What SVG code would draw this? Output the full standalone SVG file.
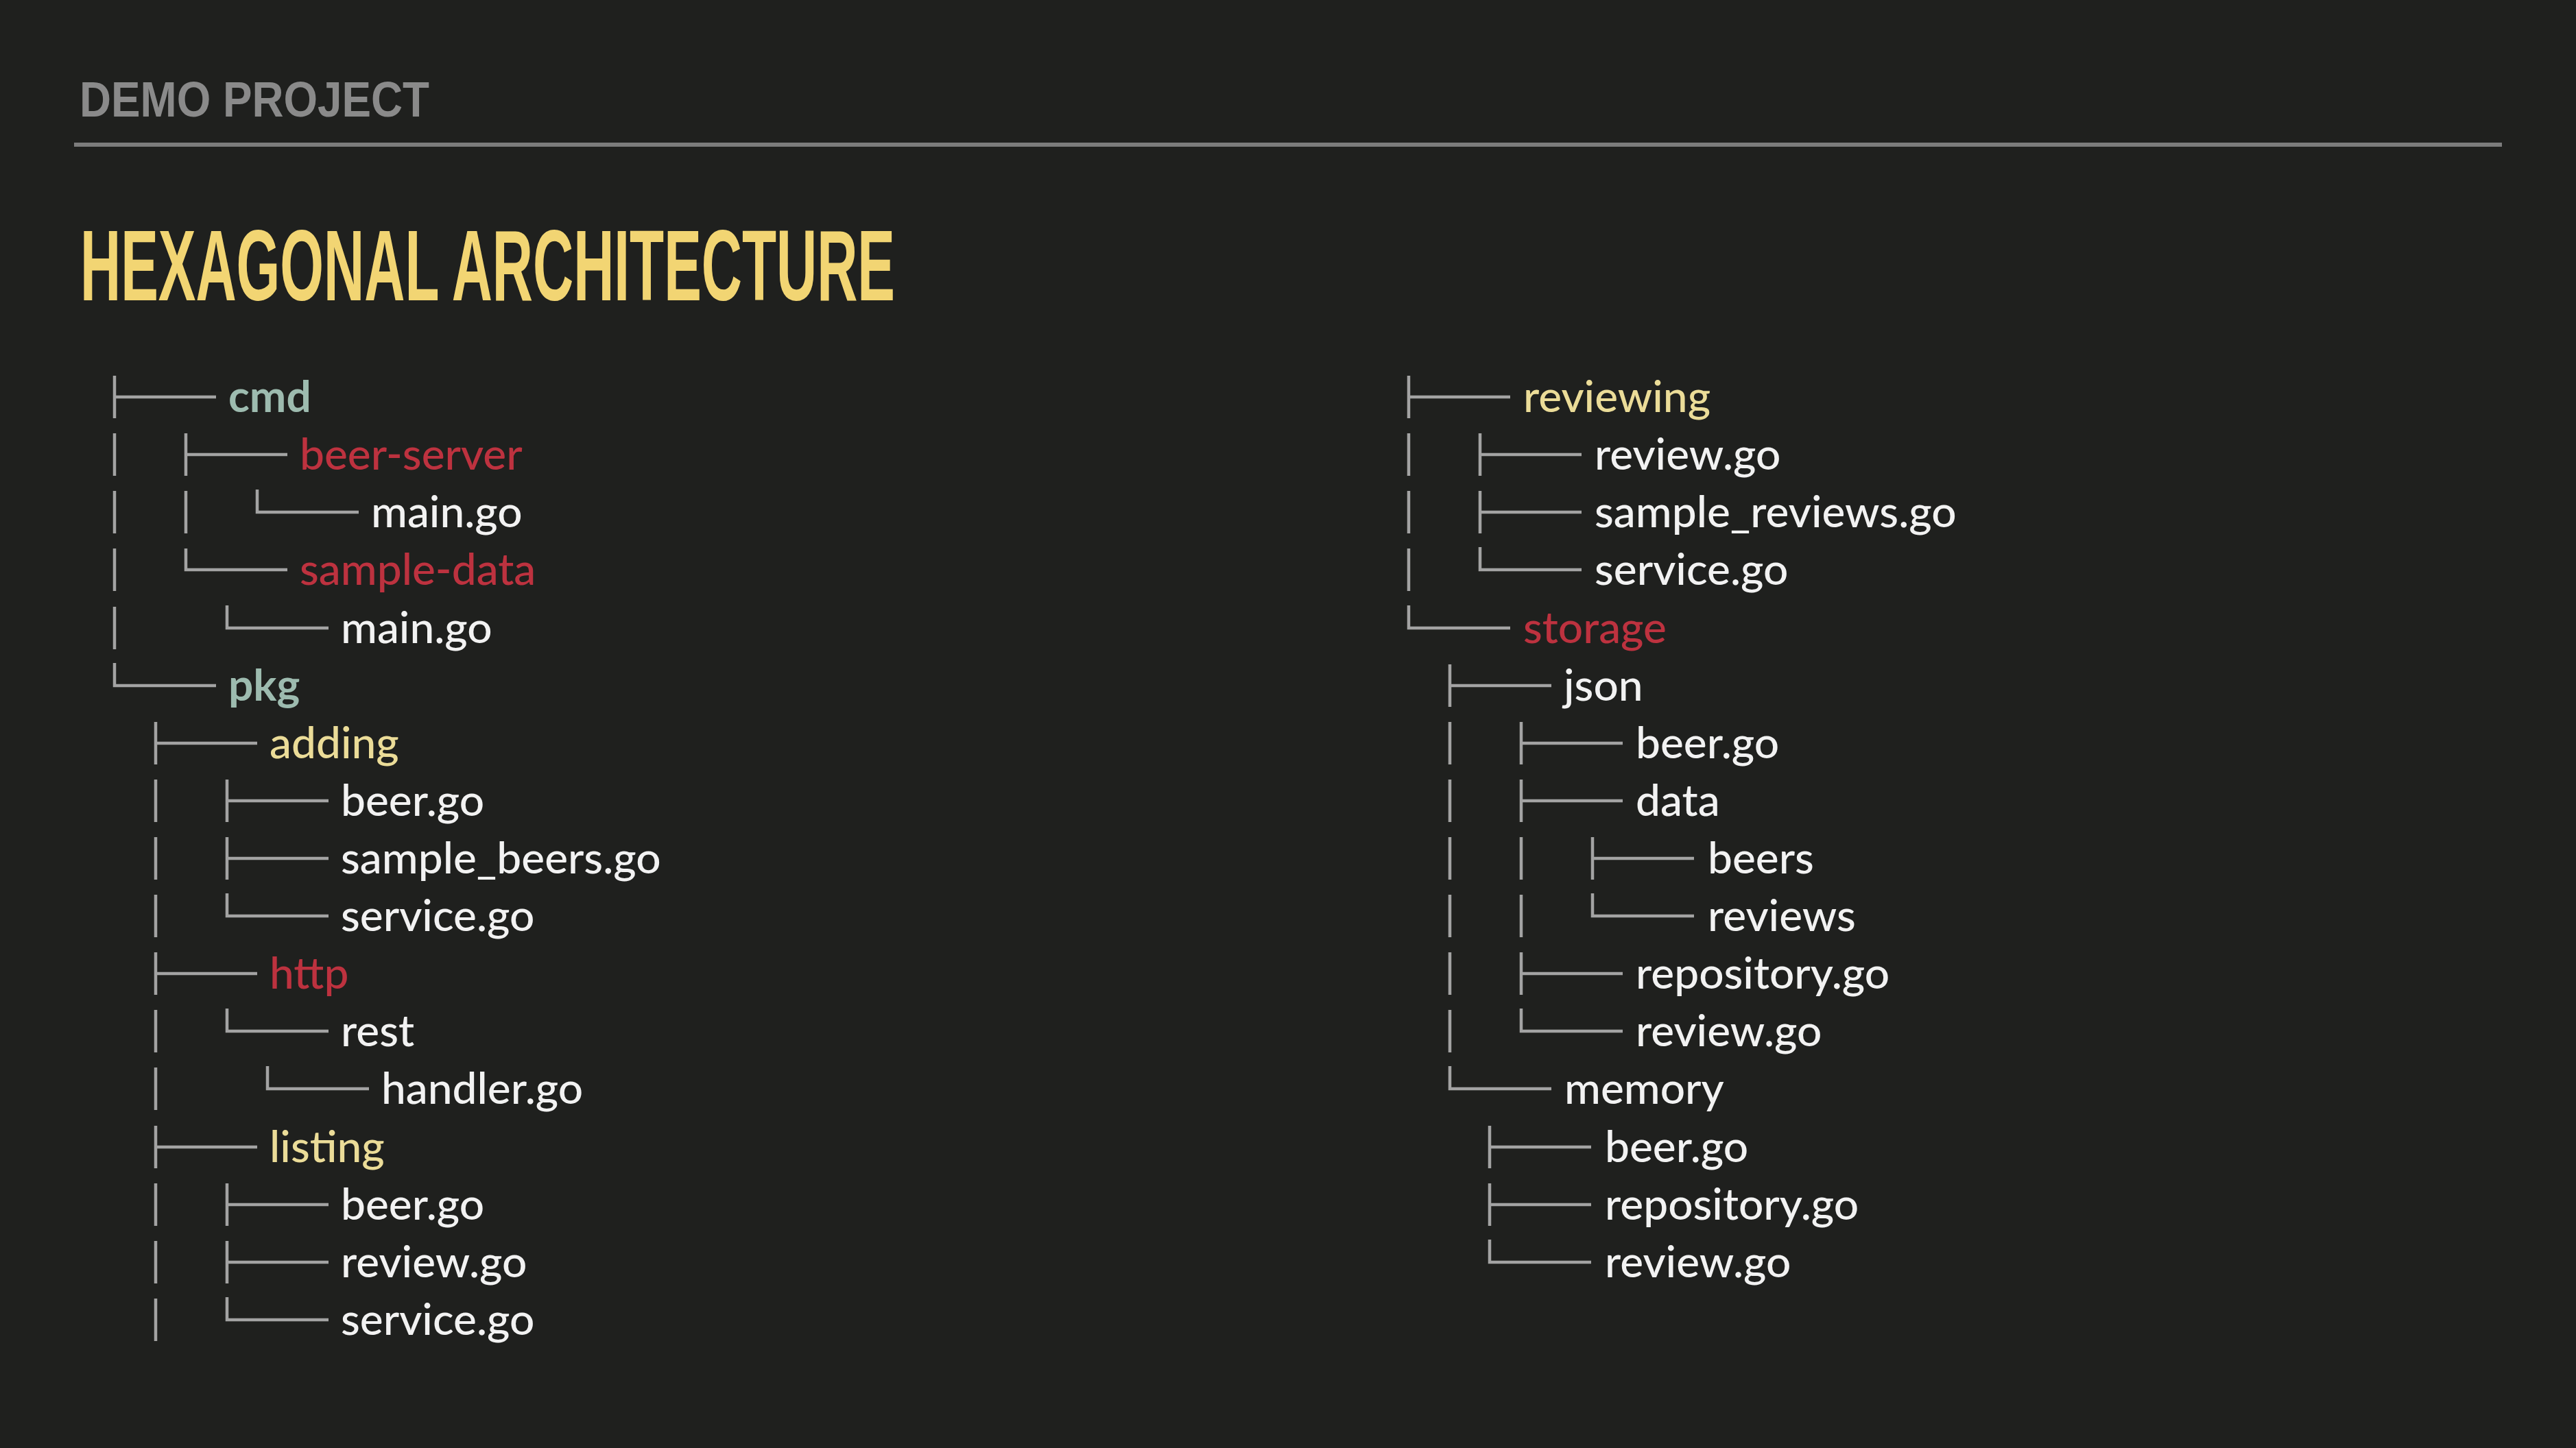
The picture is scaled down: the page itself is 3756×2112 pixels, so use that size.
<svg xmlns="http://www.w3.org/2000/svg" width="3756" height="2112" viewBox="0 0 3756 2112">
  <style>
    .bg { fill: #1f201e; }
    .kicker { font-family: "Liberation Sans", Arial, sans-serif; font-weight: 700; font-size: 73px; fill: #8a8a8a; }
    .rule { stroke: #7c7c7c; stroke-width: 6; }
    .title { font-family: "Liberation Sans", Arial, sans-serif; font-weight: 700; font-size: 147px; fill: #f2d573; }
    .tree { fill: none; stroke: #a3a3a3; stroke-width: 4.5; stroke-linecap: butt; }
    .t { font-family: Lato, "Liberation Sans", sans-serif; font-size: 64px; font-weight: 500; fill: #f2f2f2; }
    .root { fill: #9dbbaf; font-weight: 700; }
    .red { fill: #bd323f; }
    .yel { fill: #ebdc98; }
  </style>

  <rect class="bg" x="0" y="0" width="3756" height="2112"/>

  <!-- slide header -->
  <text class="kicker" x="116" y="170" textLength="510" lengthAdjust="spacingAndGlyphs">DEMO PROJECT</text>
  <line class="rule" x1="108" y1="211" x2="3648" y2="211"/>
  <text class="title" x="117" y="438" textLength="1188" lengthAdjust="spacingAndGlyphs">HEXAGONAL ARCHITECTURE</text>

  <!-- tree connectors: ├ = vertical ±31 + 148 horizontal, └ = vertical to row centre, │ = pass-through -->
  <g id="connectors" class="tree">
    <!-- left column -->
    <path d="M167 548V610M167 579H315"/>
    <path d="M167 632V694M271 632V694M271 663H419"/>
    <path d="M167 716V778M271 716V778M375 714V747H523"/>
    <path d="M167 800V862M271 800V831H419"/>
    <path d="M167 885V947M331 883V916H479"/>
    <path d="M167 967V1000H315"/>
    <path d="M227 1053V1115M227 1084H375"/>
    <path d="M227 1137V1199M331 1137V1199M331 1168H479"/>
    <path d="M227 1221V1283M331 1221V1283M331 1252H479"/>
    <path d="M227 1305V1367M331 1303V1336H479"/>
    <path d="M227 1389V1451M227 1420H375"/>
    <path d="M227 1473V1535M331 1471V1504H479"/>
    <path d="M227 1557V1619M390 1555V1588H538"/>
    <path d="M227 1642V1704M227 1673H375"/>
    <path d="M227 1726V1788M331 1726V1788M331 1757H479"/>
    <path d="M227 1810V1872M331 1810V1872M331 1841H479"/>
    <path d="M227 1894V1956M331 1892V1925H479"/>
    <!-- right column -->
    <path d="M2054 548V610M2054 579H2202"/>
    <path d="M2054 632V694M2158 632V694M2158 663H2306"/>
    <path d="M2054 716V778M2158 716V778M2158 747H2306"/>
    <path d="M2054 800V862M2158 798V831H2306"/>
    <path d="M2054 883V916H2202"/>
    <path d="M2114 969V1031M2114 1000H2262"/>
    <path d="M2114 1053V1115M2218 1053V1115M2218 1084H2366"/>
    <path d="M2114 1137V1199M2218 1137V1199M2218 1168H2366"/>
    <path d="M2114 1221V1283M2218 1221V1283M2322 1221V1283M2322 1252H2470"/>
    <path d="M2114 1305V1367M2218 1305V1367M2322 1303V1336H2470"/>
    <path d="M2114 1389V1451M2218 1389V1451M2218 1420H2366"/>
    <path d="M2114 1473V1535M2218 1471V1504H2366"/>
    <path d="M2114 1555V1588H2262"/>
    <path d="M2172 1642V1704M2172 1673H2320"/>
    <path d="M2172 1726V1788M2172 1757H2320"/>
    <path d="M2172 1808V1841H2320"/>
  </g>

  <!-- left column entries -->
  <g id="cmd"><text class="t root" x="333" y="601">cmd</text></g>
  <g id="cmd-beer-server"><text class="t red" x="437" y="685">beer-server</text></g>
  <g id="cmd-beer-server-main"><text class="t" x="541" y="769">main.go</text></g>
  <g id="cmd-sample-data"><text class="t red" x="437" y="853">sample-data</text></g>
  <g id="cmd-sample-data-main"><text class="t" x="497" y="938">main.go</text></g>
  <g id="pkg"><text class="t root" x="333" y="1022">pkg</text></g>
  <g id="pkg-adding"><text class="t yel" x="393" y="1106">adding</text></g>
  <g id="pkg-adding-beer"><text class="t" x="497" y="1190">beer.go</text></g>
  <g id="pkg-adding-sample-beers"><text class="t" x="497" y="1274">sample_beers.go</text></g>
  <g id="pkg-adding-service"><text class="t" x="497" y="1358">service.go</text></g>
  <g id="pkg-http"><text class="t red" x="393" y="1442">http</text></g>
  <g id="pkg-http-rest"><text class="t" x="497" y="1526">rest</text></g>
  <g id="pkg-http-rest-handler"><text class="t" x="556" y="1610">handler.go</text></g>
  <g id="pkg-listing"><text class="t yel" x="393" y="1695">listing</text></g>
  <g id="pkg-listing-beer"><text class="t" x="497" y="1779">beer.go</text></g>
  <g id="pkg-listing-review"><text class="t" x="497" y="1863">review.go</text></g>
  <g id="pkg-listing-service"><text class="t" x="497" y="1947">service.go</text></g>

  <!-- right column entries -->
  <g id="pkg-reviewing"><text class="t yel" x="2221" y="601">reviewing</text></g>
  <g id="pkg-reviewing-review"><text class="t" x="2325" y="685">review.go</text></g>
  <g id="pkg-reviewing-sample-reviews"><text class="t" x="2325" y="769">sample_reviews.go</text></g>
  <g id="pkg-reviewing-service"><text class="t" x="2325" y="853">service.go</text></g>
  <g id="pkg-storage"><text class="t red" x="2221" y="938">storage</text></g>
  <g id="storage-json"><text class="t" x="2280" y="1022">json</text></g>
  <g id="storage-json-beer"><text class="t" x="2385" y="1106">beer.go</text></g>
  <g id="storage-json-data"><text class="t" x="2385" y="1190">data</text></g>
  <g id="storage-json-data-beers"><text class="t" x="2490" y="1274">beers</text></g>
  <g id="storage-json-data-reviews"><text class="t" x="2490" y="1358">reviews</text></g>
  <g id="storage-json-repository"><text class="t" x="2385" y="1442">repository.go</text></g>
  <g id="storage-json-review"><text class="t" x="2385" y="1526">review.go</text></g>
  <g id="storage-memory"><text class="t" x="2281" y="1610">memory</text></g>
  <g id="storage-memory-beer"><text class="t" x="2340" y="1695">beer.go</text></g>
  <g id="storage-memory-repository"><text class="t" x="2340" y="1779">repository.go</text></g>
  <g id="storage-memory-review"><text class="t" x="2340" y="1863">review.go</text></g>
</svg>
